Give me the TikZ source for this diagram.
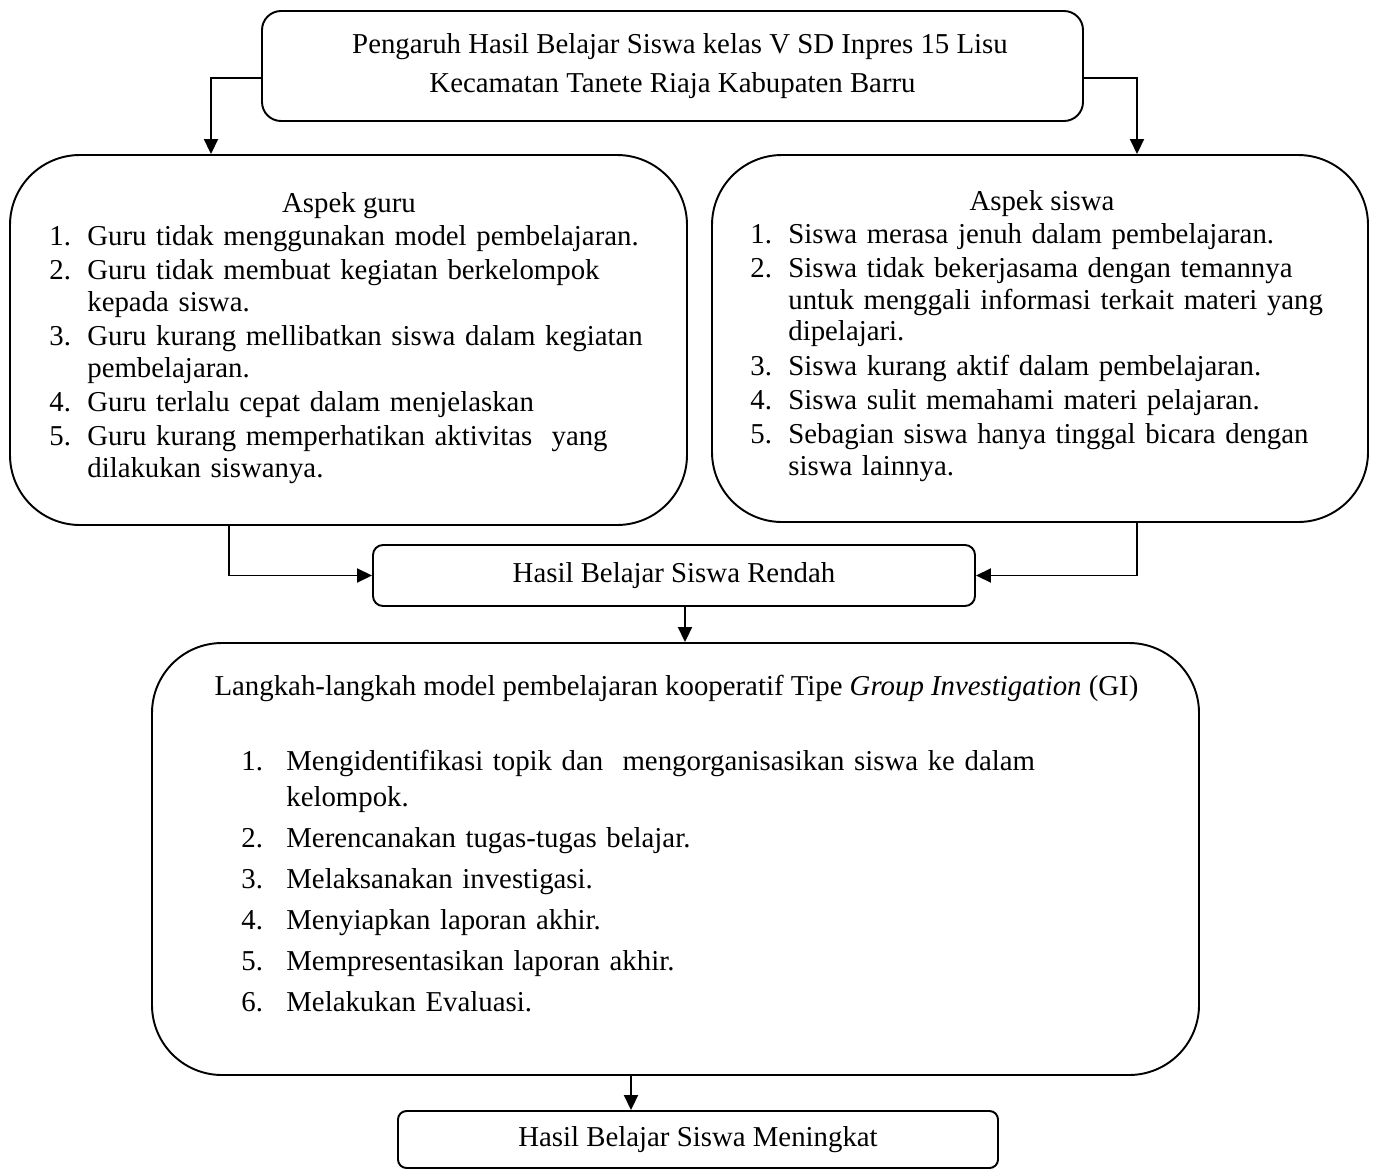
\documentclass[tikz,border=0pt]{standalone}
\usepackage{fontspec}
\setmainfont{Liberation Serif}
\usetikzlibrary{arrows.meta}

\newlength\butirw
\newcommand\butir[2]{\hangindent=\butirw\hangafter=1\noindent\makebox[\butirw][l]{#1}#2\par}

\begin{document}
\begin{tikzpicture}[
    kotak/.style={draw=black, line width=1.1pt, rounded corners=#1, inner sep=0pt, font=\fontsize{16.4}{22.1}\selectfont},
    teks/.style={inner sep=0pt, font=\fontsize{16.4}{18.14}\selectfont},
    daftar/.style={teks, anchor=base west, text width=12.6cm, align=left},
    panah/.style={line width=1.1pt, -{Triangle[length=0.3cm, width=0.28cm]}}
    ]
    \useasboundingbox (0,0) rectangle (27.54,-23.38);

    % kotak-kotak
    \node [kotak=0.38cm, minimum width=16.42cm, minimum height=2.2cm, align=center] (top) at (13.45,-1.32)
        {\hspace*{0.3cm}Pengaruh Hasil Belajar Siswa kelas V SD Inpres 15 Lisu\\Kecamatan Tanete Riaja Kabupaten Barru};
    \node [kotak=1.4cm, minimum width=13.54cm, minimum height=7.4cm] (guru) at (6.97,-6.8) {};
    \node [kotak=1.4cm, minimum width=13.12cm, minimum height=7.34cm] (siswa) at (20.8,-6.77) {};
    \node [kotak=0.2cm, minimum width=12.04cm, minimum height=1.22cm] (rendah) at (13.48,-11.51) {Hasil Belajar Siswa Rendah};
    \node [kotak=1.4cm, minimum width=20.94cm, minimum height=8.64cm] (gi) at (13.51,-17.18) {};
    \node [kotak=0.17cm, minimum width=12.0cm, minimum height=1.14cm] (meningkat) at (13.96,-22.79) {Hasil Belajar Siswa Meningkat};

    % isi kotak guru
    \node [teks, anchor=base] (gurujudul) at (6.98,-4.24) {Aspek guru};
    \node [daftar] (gurudaftar) at (0.98,-4.9) {\setlength\parskip{1.28pt}\setlength\butirw{0.76cm}%
        \butir{1.}{Guru tidak menggunakan model pembelajaran.}%
        \butir{2.}{Guru tidak membuat kegiatan berkelompok\newline kepada siswa.}%
        \butir{3.}{Guru kurang mellibatkan siswa dalam kegiatan\newline pembelajaran.}%
        \butir{4.}{Guru terlalu cepat dalam menjelaskan}%
        \butir{5.}{Guru kurang memperhatikan aktivitas\ \ yang\newline dilakukan siswanya.}};

    % isi kotak siswa
    \node [teks, anchor=base] (siswajudul) at (20.84,-4.2) {Aspek siswa};
    \node [daftar] (siswadaftar) at (15.0,-4.86) {\setlength\parskip{1.28pt}\setlength\butirw{0.76cm}%
        \butir{1.}{Siswa merasa jenuh dalam pembelajaran.}%
        \butir{2.}{Siswa tidak bekerjasama dengan temannya\newline untuk menggali informasi terkait materi yang\newline dipelajari.}%
        \butir{3.}{Siswa kurang aktif dalam pembelajaran.}%
        \butir{4.}{Siswa sulit memahami materi pelajaran.}%
        \butir{5.}{Sebagian siswa hanya tinggal bicara dengan\newline siswa lainnya.}};

    % isi kotak GI
    \node [teks, anchor=base] (gijudul) at (13.53,-13.9)
        {Langkah-langkah model pembelajaran kooperatif Tipe \textit{Group Investigation} (GI)};
    \node [daftar, text width=17cm, font=\fontsize{16.4}{20.98}\selectfont] (gidaftar) at (4.82,-15.4)
        {\setlength\parskip{2.27pt}\setlength\butirw{0.9cm}%
        \butir{1.}{Mengidentifikasi topik dan\ \ mengorganisasikan siswa ke dalam\newline kelompok.}%
        \butir{2.}{Merencanakan tugas-tugas belajar.}%
        \butir{3.}{Melaksanakan investigasi.}%
        \butir{4.}{Menyiapkan laporan akhir.}%
        \butir{5.}{Mempresentasikan laporan akhir.}%
        \butir{6.}{Melakukan Evaluasi.}};

    % panah
    \coordinate (p1) at ([xshift=2.2mm]rendah.south);
    \coordinate (p2) at ([xshift=-1.34cm]meningkat.north);
    \draw [panah] ([yshift=-2.4mm]top.west) -| ([xshift=-2.75cm]guru.north);
    \draw [panah] ([yshift=-2.4mm]top.east) -| ([xshift=1.94cm]siswa.north);
    \draw [panah] ([xshift=-2.39cm]guru.south) |- (rendah.west);
    \draw [panah] ([xshift=1.94cm]siswa.south) |- (rendah.east);
    \draw [panah] (p1) -- (p1 |- gi.north);
    \draw [panah] (p2 |- gi.south) -- (p2);

\end{tikzpicture}
\end{document}
